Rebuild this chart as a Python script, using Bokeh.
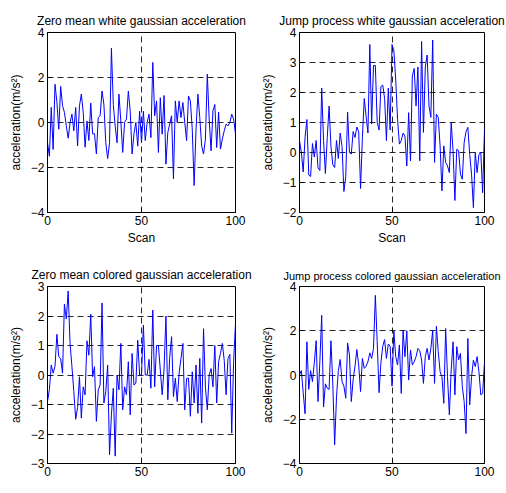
from bokeh.plotting import figure
from bokeh.layouts import column, row
from bokeh.models import FixedTicker, Range1d, Label
from bokeh.embed import file_html
from bokeh.resources import INLINE

scan = list(range(101))

zero_white = [
    -0.9, -1.5, 0.67, -1.2, 1.7, 0.9, -0.3, 1.6, 0.75, 0.45,
    -0.15, -0.7, 0.0, 0.37, -0.37, 0.67, -1.04, 0.74, 1.26, 0.45,
    -1.1, 0.07, -0.8, 0.86, -0.5, -0.5, -1.4, 0.22, 0.3, 1.4,
    0.8, -0.9, -1.6, -0.9, 3.3, 0.8, -0.15, -0.9, 1.26, 0.07,
    -1.33, 0.0, 0.15, 1.4, 0.5, -1.4, -0.5, 0.0, -1.05, 0.5,
    -0.9, 0.5, -0.8, 0.0, 0.37, -0.67, 2.67, 0.3, 0.96, -1.33,
    1.1, -0.52, 1.2, -1.85, -0.44, -0.07, 0.3, -2.5, 0.96, 0.0,
    0.96, 0.22, 0.89, 0.0, -0.8, 1.18, 0.96, -0.3, -2.8, -0.3,
    1.26, 0.22, -1.04, -1.4, -0.74, 2.15, 0.15, -1.26, 0.52, 0.8,
    -1.11, 0.47, -1.18, -0.74, -0.37, -0.07, -0.15, 0.0, 0.37, 0.15,
    -0.5]

jump_white = [
    0.4, 0.0, -0.65, 0.5, 1.1, -0.75, -0.8, 0.3, -0.15, 0.4,
    -0.5, -0.6, 2.15, 0.4, -0.7, 0.5, 1.55, 0.2, -0.4, -0.5,
    0.4, -0.2, 0.65, 0.2, -1.3, -0.8, 1.35, 0.0, -0.05, 0.7,
    0.5, 0.85, 0.7, -1.2, 0.5, 1.8, 1.2, 0.65, 3.6, 0.95,
    2.9, 2.9, 1.0, 0.75, 2.2, 2.25, 1.8, 0.4, 2.15, 0.75,
    3.6, 3.4, 2.45, 1.1, 0.28, 0.4, 0.65, 0.55, -0.45, 1.33,
    -0.28, 2.55, 2.8, 1.55, 2.85, -0.28, 3.7, 0.67, 2.85, 3.25,
    1.55, 1.17, 3.75, -0.33, 1.28, 1.17, 0.22, -1.28, 0.22, -0.33,
    -0.45, -0.67, 1.0, 0.06, -1.6, 0.11, 0.06, -0.72, -0.89, 0.33,
    0.69, 0.84, -0.06, -0.72, -1.84, 0.0, -0.67, -0.06, 0.0, -1.34,
    0.78]

zero_colored = [
    -0.9, -0.5, 0.34, 0.06, 0.3, 1.38, 0.62, 0.56, 0.06, 2.4,
    1.9, 2.85, 1.07, 0.28, -0.56, -1.5, -1.1, -0.06, -1.46, -0.4,
    -0.67, 1.16, 0.67, 2.06, -0.06, 0.28, -1.57, -0.5, -0.34, 2.44,
    -0.95, -0.56, 0.34, -2.7, -1.35, -0.45, -2.75, 0.0, -0.5, 1.07,
    -1.18, -0.4, -0.67, 0.45, -1.35, 0.73, -0.34, -0.28, 1.18, 0.0,
    0.0, 1.69, 0.0, 0.0, 0.53, -0.45, 2.2, -0.4, 1.0, 1.0,
    0.17, -0.67, 0.2, 2.0, -0.84, 0.6, 1.3, -0.73, -0.11, -0.9,
    0.06, 0.56, 1.07, -1.18, -0.11, -0.11, -1.4, 0.11, -0.95, 0.34,
    -1.3, 0.56, -1.63, 1.57, -0.4, -1.18, 0.0, 0.22, -0.4, 1.0,
    -0.95, 0.45, 0.73, 1.07, 0.5, -0.67, 0.56, 0.7, -1.97, 0.45,
    1.74]

jump_colored = [
    0.0, 0.2, -0.8, -1.75, 1.5, -0.65, 0.2, -0.3, 0.55, 1.55,
    -1.2, 0.6, 2.7, -1.45, -0.4, -0.6, -0.65, 1.55, -0.4, -3.15,
    -1.0, 0.2, 0.7, -0.3, -0.5, -1.05, 1.45, 0.9, -1.2, -0.2,
    0.4, 1.15, 0.45, -0.75, 0.75, 0.3, 0.4, 0.6, 1.0, 0.75,
    1.2, 3.6, 1.5, -0.8, 0.55, 1.3, 1.6, 0.75, 1.4, 1.3,
    -0.5, 2.0, 0.83, 0.45, 1.36, -0.83, 2.0, 0.83, 2.0, -0.23,
    1.13, 0.45, 0.6, 0.83, 1.2, 1.10, 0.68, -0.38, 0.83, 1.2,
    0.68, 1.2, 2.0, -0.38, 2.2, 1.06, 0.15, -0.08, -1.28, 2.1,
    -0.08, -1.8, 0.23, 1.5, -0.9, 1.28, 0.68, 0.98, -0.53, -1.2,
    -2.65, 1.65, -1.35, -0.08, 0.68, 0.38, 0.83, 0.15, -0.9, -0.83,
    0.6]

titles = ["Zero mean white gaussian acceleration",
          "Jump process white gaussian acceleration",
          "Zero mean colored gaussian acceleration",
          "Jump process colored gaussian acceleration"]
y_limits = [(-4, 4), (-2, 4), (-3, 3), (-4, 4)]
y_ticks = [[-4, -2, 0, 2, 4], [-2, -1, 0, 1, 2, 3, 4],
           [-3, -2, -1, 0, 1, 2, 3], [-4, -2, 0, 2, 4]]
x_ticks = [0, 50, 100]
x_label = "Scan"
y_label = "acceleration(m/s\u00b2)"

FONT = "Liberation Sans"
FRAME_W = 188


def make(title, ys, lims, ticks, width, height, left, top, frame_h, bottom,
         show_xlabel, title_size="12px"):
    lo, hi = lims
    p = figure(width=width, height=height, output_backend="svg",
               toolbar_location=None, x_range=Range1d(0, 100),
               y_range=Range1d(lo, hi),
               min_border_left=left, min_border_right=width - left - FRAME_W,
               min_border_top=top, min_border_bottom=bottom)
    p.title.text = title
    p.title.align = "center"
    p.title.text_font = FONT
    p.title.text_font_size = title_size
    p.title.text_font_style = "normal"
    p.title.text_color = "black"
    p.title.standoff = 9
    p.line(scan, ys, line_color="#0000ff", line_width=1)
    p.xaxis.ticker = FixedTicker(ticks=x_ticks)
    p.yaxis.ticker = FixedTicker(ticks=ticks)
    for ax in (p.xaxis[0], p.yaxis[0]):
        ax.major_tick_in = 4
        ax.major_tick_out = 0
        ax.minor_tick_line_color = None
        ax.major_label_text_font = FONT
        ax.major_label_text_font_size = "12px"
        ax.major_label_text_color = "black"
        ax.axis_line_color = "black"
        ax.major_tick_line_color = "black"
        ax.major_label_standoff = 3
        ax.axis_label_text_font = FONT
        ax.axis_label_text_font_size = "12px"
        ax.axis_label_text_font_style = "normal"
        ax.axis_label_text_color = "black"
        ax.axis_label_standoff = 3
    p.yaxis.axis_label = y_label
    p.yaxis.axis_label_standoff = 5
    if show_xlabel:
        p.xaxis.axis_label = x_label
    else:
        px_per_unit = frame_h / (hi - lo)
        p.add_layout(Label(x=50, y=lo - 15.0 / px_per_unit, text=x_label,
                           text_align="center", text_baseline="top",
                           text_font=FONT, text_font_size="12px",
                           text_color="black"))
    p.grid.grid_line_color = "black"
    p.grid.grid_line_dash = "6 4"
    p.grid.grid_line_alpha = 0.85
    p.outline_line_color = "black"
    p.outline_line_alpha = 1
    p.outline_line_width = 1
    p.background_fill_color = "white"
    p.border_fill_color = "white"
    return p


p1 = make(titles[0], zero_white, y_limits[0], y_ticks[0], 257, 261, 47, 32, 180, 49, True)
p2 = make(titles[1], jump_white, y_limits[1], y_ticks[1], 249, 261, 39, 32, 180, 49, True)
p3 = make(titles[2], zero_colored, y_limits[2], y_ticks[2], 257, 232, 47, 24, 178, 30, False)
p4 = make(titles[3], jump_colored, y_limits[3], y_ticks[3], 249, 232, 39, 24, 178, 30, False,
          title_size="11px")

layout = column(row(p1, p2), row(p3, p4))
open("out.html", "w").write(file_html(layout, INLINE))
